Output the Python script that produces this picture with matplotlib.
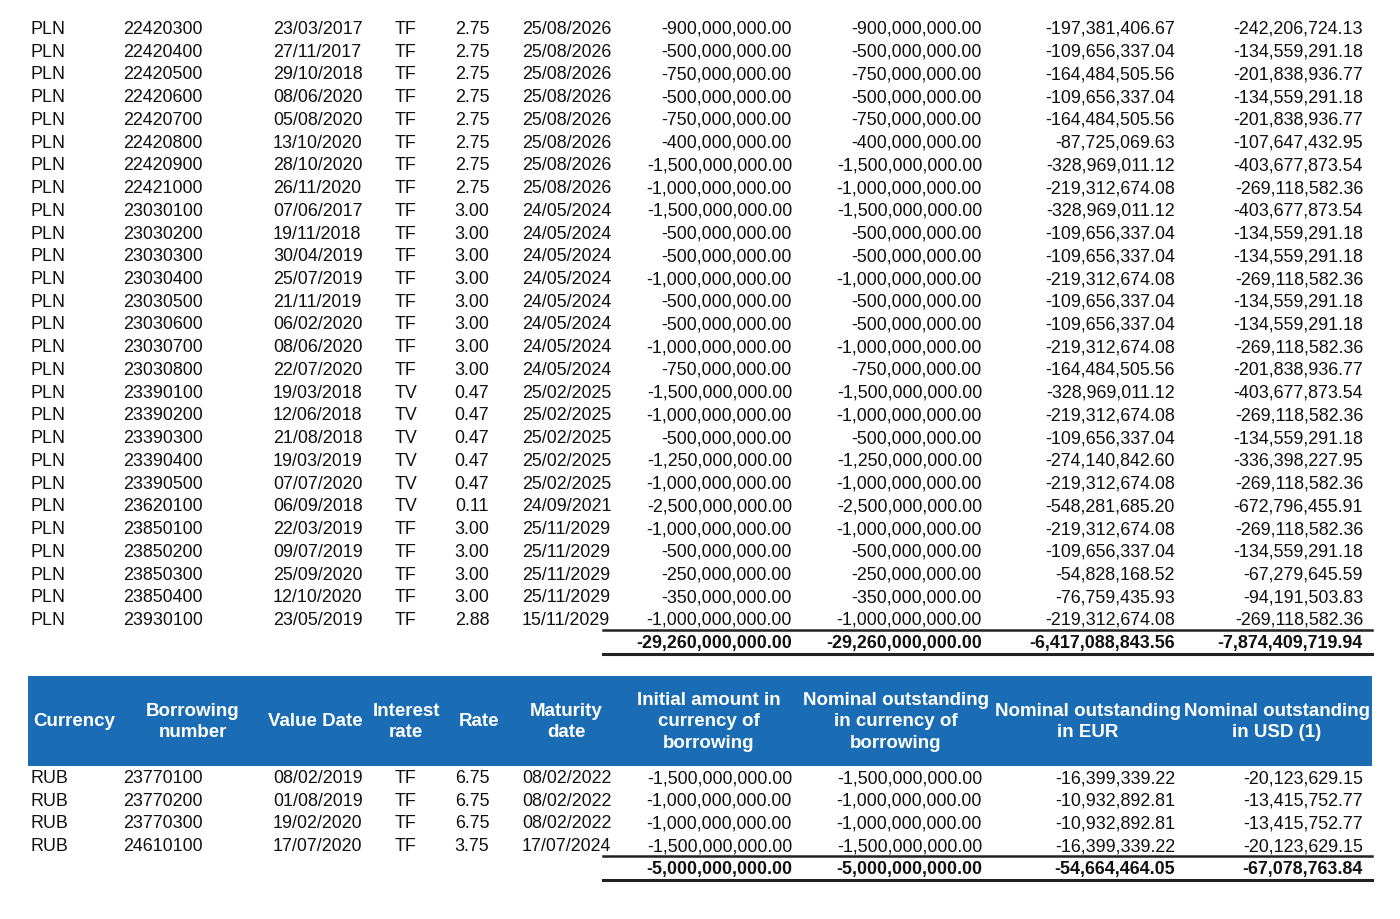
import matplotlib.pyplot as plt
from matplotlib import font_manager

# PLN block (continuation of a longer table)
pln_numbers = ['22420300', '22420400', '22420500', '22420600', '22420700', '22420800', '22420900',
               '22421000', '23030100', '23030200', '23030300', '23030400', '23030500', '23030600',
               '23030700', '23030800', '23390100', '23390200', '23390300', '23390400', '23390500',
               '23620100', '23850100', '23850200', '23850300', '23850400', '23930100']
pln_value_dates = ['23/03/2017', '27/11/2017', '29/10/2018', '08/06/2020', '05/08/2020', '13/10/2020',
                   '28/10/2020', '26/11/2020', '07/06/2017', '19/11/2018', '30/04/2019', '25/07/2019',
                   '21/11/2019', '06/02/2020', '08/06/2020', '22/07/2020', '19/03/2018', '12/06/2018',
                   '21/08/2018', '19/03/2019', '07/07/2020', '06/09/2018', '22/03/2019', '09/07/2019',
                   '25/09/2020', '12/10/2020', '23/05/2019']
pln_types = ['TF'] * 16 + ['TV'] * 6 + ['TF'] * 5
pln_rates = [2.75] * 8 + [3.00] * 8 + [0.47] * 5 + [0.11] + [3.00] * 4 + [2.88]
pln_maturities = ['25/08/2026'] * 8 + ['24/05/2024'] * 8 + ['25/02/2025'] * 5 + ['24/09/2021'] + \
                 ['25/11/2029'] * 4 + ['15/11/2029']
pln_initial = [-900e6, -500e6, -750e6, -500e6, -750e6, -400e6, -1500e6, -1000e6, -1500e6, -500e6,
               -500e6, -1000e6, -500e6, -500e6, -1000e6, -750e6, -1500e6, -1000e6, -500e6, -1250e6,
               -1000e6, -2500e6, -1000e6, -500e6, -250e6, -350e6, -1000e6]
pln_nominal = list(pln_initial)
pln_eur = [-197381406.67, -109656337.04, -164484505.56, -109656337.04, -164484505.56, -87725069.63,
           -328969011.12, -219312674.08, -328969011.12, -109656337.04, -109656337.04, -219312674.08,
           -109656337.04, -109656337.04, -219312674.08, -164484505.56, -328969011.12, -219312674.08,
           -109656337.04, -274140842.60, -219312674.08, -548281685.20, -219312674.08, -109656337.04,
           -54828168.52, -76759435.93, -219312674.08]
pln_usd = [-242206724.13, -134559291.18, -201838936.77, -134559291.18, -201838936.77, -107647432.95,
           -403677873.54, -269118582.36, -403677873.54, -134559291.18, -134559291.18, -269118582.36,
           -134559291.18, -134559291.18, -269118582.36, -201838936.77, -403677873.54, -269118582.36,
           -134559291.18, -336398227.95, -269118582.36, -672796455.91, -269118582.36, -134559291.18,
           -67279645.59, -94191503.83, -269118582.36]
pln_totals = [-29260000000.00, -29260000000.00, -6417088843.56, -7874409719.94]

# RUB block
rub_numbers = ['23770100', '23770200', '23770300', '24610100']
rub_value_dates = ['08/02/2019', '01/08/2019', '19/02/2020', '17/07/2020']
rub_types = ['TF', 'TF', 'TF', 'TF']
rub_rates = [6.75, 6.75, 6.75, 3.75]
rub_maturities = ['08/02/2022', '08/02/2022', '08/02/2022', '17/07/2024']
rub_initial = [-1500e6, -1000e6, -1000e6, -1500e6]
rub_nominal = list(rub_initial)
rub_eur = [-16399339.22, -10932892.81, -10932892.81, -16399339.22]
rub_usd = [-20123629.15, -13415752.77, -13415752.77, -20123629.15]
rub_totals = [-5000000000.00, -5000000000.00, -54664464.05, -67078763.84]

headers = ['Currency', 'Borrowing\nnumber', 'Value Date', 'Interest\nrate', 'Rate', 'Maturity\ndate',
           'Initial amount in\ncurrency of\nborrowing', 'Nominal outstanding\nin currency of\nborrowing',
           'Nominal outstanding\nin EUR', 'Nominal outstanding\nin USD (1)']

names = [f.name for f in font_manager.fontManager.ttflist]
font = 'Liberation Sans Narrow' if 'Liberation Sans Narrow' in names else 'Liberation Sans'
plt.rcParams['font.family'] = [font, 'DejaVu Sans']
fs = 12.9 if font == 'Liberation Sans' else 14.5

fig = plt.figure(figsize=(14, 9.19), dpi=100)
ax = fig.add_axes([0, 0, 1, 1])
ax.set_xlim(0, 1400)
ax.set_ylim(919, 0)
ax.axis('off')

blue = '#1a6db5'
row_h = 22.73
# left-aligned text columns, then centred rate, then right-aligned amounts
left_x = [30, 123, 273, 395, None, 522]
rate_cx = 472
right_x = [792, 982, 1175, 1363]
header_cx = [74, 193, 315, 406, 479, 566, 709, 896, 1088, 1277]


def fmt(v):
    return f'{v:,.2f}'


def draw_block(y0, cur, numbers, vdates, types, rates, mats, initial, nominal, eur, usd, totals):
    for i in range(len(numbers)):
        y = y0 + i * row_h + 1.5
        txt = [cur, numbers[i], vdates[i], types[i], None, mats[i]]
        for x, t in zip(left_x, txt):
            if x is not None:
                ax.text(x, y, t, ha='left', va='center', fontsize=fs, color='#111111')
        ax.text(rate_cx, y, f'{rates[i]:.2f}', ha='center', va='center', fontsize=fs, color='#111111')
        for x, v in zip(right_x, [initial[i], nominal[i], eur[i], usd[i]]):
            ax.text(x, y, fmt(v), ha='right', va='center', fontsize=fs, color='#111111')
    yt = y0 + len(numbers) * row_h
    for x, v in zip(right_x, totals):
        ax.text(x, yt + 1.5, fmt(v), ha='right', va='center', fontsize=fs, fontweight='bold',
                color='#111111')
    ax.plot([603, 1372], [yt - 11.5, yt - 11.5], color='#222222', lw=1.8)
    ax.plot([603, 1372], [yt + 12, yt + 12], color='#222222', lw=2.2)


draw_block(28, 'PLN', pln_numbers, pln_value_dates, pln_types, pln_rates, pln_maturities,
           pln_initial, pln_nominal, pln_eur, pln_usd, pln_totals)

# header band
ax.add_patch(plt.Rectangle((28, 676), 1344, 90, facecolor=blue, edgecolor='none'))
for cx, h in zip(header_cx, headers):
    ax.text(cx, 722, h, ha='center', va='center', fontsize=fs + 0.6, fontweight='bold',
            color='white', linespacing=1.38, multialignment='center')

draw_block(777, 'RUB', rub_numbers, rub_value_dates, rub_types, rub_rates, rub_maturities,
           rub_initial, rub_nominal, rub_eur, rub_usd, rub_totals)

fig.savefig('out.png', dpi=100, facecolor='white')
